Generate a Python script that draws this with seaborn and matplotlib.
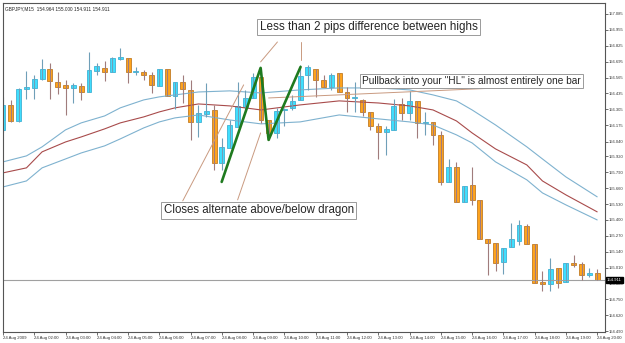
import numpy as np
import pandas as pd
import seaborn as sns
import matplotlib.pyplot as plt

# GBPJPY M15, 24 Aug 2009 01:00 -> 20:00 (77 bars)
opens = [156.137, 156.341, 156.210, 156.472, 156.480, 156.554, 156.636, 156.529, 156.505, 156.480,
         156.497, 156.447, 156.619, 156.644, 156.611, 156.717, 156.726, 156.611, 156.611, 156.586,
         156.497, 156.636, 156.415, 156.529, 156.464, 156.202, 156.267, 156.300, 155.867, 155.989,
         156.161, 156.325, 156.398, 156.570, 156.218, 156.112, 156.300, 156.317, 156.382, 156.586,
         156.636, 156.546, 156.488, 156.603, 156.447, 156.398, 156.382, 156.284, 156.169, 156.120,
         156.137, 156.349, 156.276, 156.374, 156.194, 156.202, 156.096, 155.711, 155.834, 155.548,
         155.687, 155.564, 155.245, 155.212, 155.057, 155.180, 155.229, 155.351, 155.204, 154.893,
         154.877, 155.008, 154.893, 155.049, 155.040, 154.950, 154.964]
highs = [156.407, 156.382, 156.480, 156.619, 156.586, 156.717, 156.685, 156.611, 156.546, 156.521,
         156.521, 156.775, 156.685, 156.701, 156.734, 156.807, 156.726, 156.652, 156.627, 156.611,
         156.636, 156.636, 156.529, 156.586, 156.546, 156.341, 156.521, 156.341, 156.071, 156.218,
         156.529, 156.464, 156.603, 156.644, 156.218, 156.317, 156.317, 156.423, 156.668, 156.668,
         156.636, 156.586, 156.603, 156.603, 156.488, 156.529, 156.390, 156.284, 156.194, 156.169,
         156.390, 156.398, 156.456, 156.374, 156.284, 156.202, 156.128, 155.899, 155.875, 155.679,
         155.834, 155.564, 155.245, 155.212, 155.171, 155.376, 155.400, 155.368, 155.204, 154.983,
         155.090, 155.008, 155.049, 155.114, 155.057, 155.008, 155.000]
lows = [156.120, 156.202, 156.202, 156.390, 156.390, 156.546, 156.390, 156.431, 156.259, 156.357,
        156.382, 156.447, 156.586, 156.537, 156.611, 156.709, 156.521, 156.586, 156.546, 156.439,
        156.497, 156.415, 156.308, 156.357, 156.055, 156.079, 156.243, 155.809, 155.809, 155.989,
        156.161, 156.300, 156.398, 156.194, 156.055, 156.071, 156.169, 156.300, 156.382, 156.464,
        156.407, 156.488, 156.464, 156.447, 156.284, 156.284, 156.251, 156.137, 155.899, 155.932,
        156.137, 156.218, 156.218, 156.071, 156.096, 156.014, 155.687, 155.711, 155.548, 155.548,
        155.523, 155.245, 154.950, 154.983, 154.959, 155.180, 155.196, 155.204, 154.885, 154.820,
        154.820, 154.844, 154.893, 155.016, 154.910, 154.934, 154.911]
closes = [156.341, 156.210, 156.472, 156.488, 156.554, 156.636, 156.537, 156.488, 156.480, 156.505,
          156.447, 156.627, 156.660, 156.611, 156.726, 156.734, 156.611, 156.611, 156.586, 156.505,
          156.636, 156.415, 156.529, 156.472, 156.202, 156.276, 156.292, 155.867, 155.998, 156.177,
          156.333, 156.398, 156.570, 156.218, 156.112, 156.292, 156.300, 156.374, 156.578, 156.652,
          156.546, 156.488, 156.586, 156.447, 156.398, 156.398, 156.284, 156.169, 156.120, 156.145,
          156.333, 156.276, 156.374, 156.194, 156.202, 156.096, 155.711, 155.834, 155.548, 155.679,
          155.564, 155.245, 155.212, 155.049, 155.171, 155.245, 155.359, 155.204, 154.885, 154.877,
          155.000, 154.885, 155.049, 155.032, 154.950, 154.967, 154.911]

# "dragon" channel (EMA of high / close / low), read at a few bars
ma_idx = [0, 3, 5, 8, 10, 13, 15, 18, 20, 22, 25, 29, 33, 38, 43, 48, 52, 55, 58, 60, 63, 67, 69, 72, 76]
ma_high = [155.875, 155.924, 155.998, 156.137, 156.194, 156.251, 156.317, 156.382, 156.407, 156.423,
           156.447, 156.456, 156.439, 156.464, 156.480, 156.480, 156.464, 156.423, 156.374, 156.300,
           156.177, 155.998, 155.899, 155.752, 155.589]
ma_mid = [155.785, 155.826, 155.957, 156.038, 156.079, 156.145, 156.194, 156.243, 156.284, 156.317,
          156.349, 156.333, 156.300, 156.341, 156.374, 156.357, 156.333, 156.300, 156.210, 156.112,
          155.981, 155.850, 155.719, 155.605, 155.466]
ma_low = [155.670, 155.719, 155.826, 155.899, 155.948, 156.006, 156.063, 156.153, 156.202, 156.235,
          156.259, 156.218, 156.186, 156.202, 156.259, 156.227, 156.202, 156.177, 156.096, 156.030,
          155.875, 155.728, 155.621, 155.523, 155.400]

price_ticks = [157.085, 156.955, 156.825, 156.695, 156.565, 156.435, 156.305, 156.175, 156.040,
               155.920, 155.790, 155.660, 155.530, 155.400, 155.270, 155.140, 155.010, 154.880,
               154.750, 154.620, 154.490]
time_labels = ['24 Aug 2009'] + ['24 Aug %02d:00' % h for h in range(2, 21)]

# green swing lines (bar, price)
swing_bar = [27.97, 32.95, 33.97, 38.06]
swing_px = [155.711, 156.644, 156.055, 156.652]

df = pd.DataFrame({'open': opens, 'high': highs, 'low': lows, 'close': closes})
df['bar'] = np.arange(len(df))
bull = df['close'] >= df['open']

sns.set_style('white')
plt.rcParams['font.family'] = ['Liberation Sans', 'DejaVu Sans']

fig = plt.figure(figsize=(6.25, 3.43), dpi=100)
ax = fig.add_axes([3 / 625, 11 / 343, 602 / 625, 329 / 343])

# channel lines
sns.lineplot(x=ma_idx, y=ma_high, ax=ax, color='#7fb2cf', lw=0.8)
sns.lineplot(x=ma_idx, y=ma_low, ax=ax, color='#7fb2cf', lw=0.8)
sns.lineplot(x=ma_idx, y=ma_mid, ax=ax, color='#a84b4b', lw=0.8)

# current price line
ax.axhline(closes[-1], color='#a0a0a0', lw=0.8)

# candles
ax.vlines(df['bar'][bull], df['low'][bull], df['high'][bull], color='#6f9fb8', lw=0.8)
ax.vlines(df['bar'][~bull], df['low'][~bull], df['high'][~bull], color='#a07c7c', lw=0.8)
body_lo = df[['open', 'close']].min(axis=1)
body_h = (df['close'] - df['open']).abs().clip(lower=0.004)
ax.bar(df['bar'][bull], body_h[bull], bottom=body_lo[bull], width=0.62,
       color='#3fe0ff', edgecolor='#2aa5cc', linewidth=0.5)
ax.bar(df['bar'][~bull], body_h[~bull], bottom=body_lo[~bull], width=0.62,
       color='#ffa41c', edgecolor='#b56a10', linewidth=0.5)

# annotation lines
brown = '#c99a80'
ax.plot([35.1, 32.95], [156.856, 156.693], color=brown, lw=0.7)
ax.plot([38.06, 38.06], [156.856, 156.709], color=brown, lw=0.7)
ax.plot([33.97, 66.16], [156.398, 156.488], color=brown, lw=0.7)
ax.plot([22.99, 30.78], [155.556, 156.505], color=brown, lw=0.7)
ax.plot([30.01, 32.95], [155.564, 156.112], color=brown, lw=0.7)
ax.plot(swing_bar, swing_px, color='#1f7a1f', lw=1.9, solid_capstyle='round')

box = dict(boxstyle='square,pad=0.2', fc='white', ec='#9a9a9a', lw=0.7)
ax.text(32.85, 156.979, 'Less than 2 pips difference between highs', fontsize=8.4,
        va='center', ha='left', bbox=box)
ax.text(45.95, 156.533, 'Pullback into your "HL" is almost entirely one bar', fontsize=7.25,
        va='center', ha='left', bbox=box)
ax.text(20.55, 155.478, 'Closes alternate above/below dragon', fontsize=8.3,
        va='center', ha='left', bbox=box)

ax.text(0.003, 0.99, 'GBPJPY,M15  154.964 155.000 154.911 154.911', transform=ax.transAxes,
        fontsize=3.4, va='top', ha='left', color='#222222')

ax.set_xlim(0.13, 77.0)
ax.set_ylim(154.483, 157.175)

ax.yaxis.tick_right()
ax.set_yticks(price_ticks)
ax.set_yticklabels(['%.3f' % p for p in price_ticks])
ax.set_xticks(range(0, 77, 4))
ax.set_xticklabels(time_labels, ha='left')
ax.tick_params(axis='y', right=True, length=2, width=0.5, pad=0.8, labelsize=3.0, colors='#333333')
ax.tick_params(axis='x', bottom=True, length=2, width=0.5, pad=0.8, labelsize=3.1, colors='#333333')
ax.set_xlabel('')
ax.set_ylabel('')
for s in ax.spines.values():
    s.set_color('#555555')
    s.set_linewidth(0.8)

ax.text(1.003, closes[-1], '%.3f' % closes[-1], transform=ax.get_yaxis_transform(),
        fontsize=3.1, color='white', va='center', ha='left',
        bbox=dict(boxstyle='square,pad=0.25', fc='black', ec='black'))

fig.savefig('out.png', dpi=100)
